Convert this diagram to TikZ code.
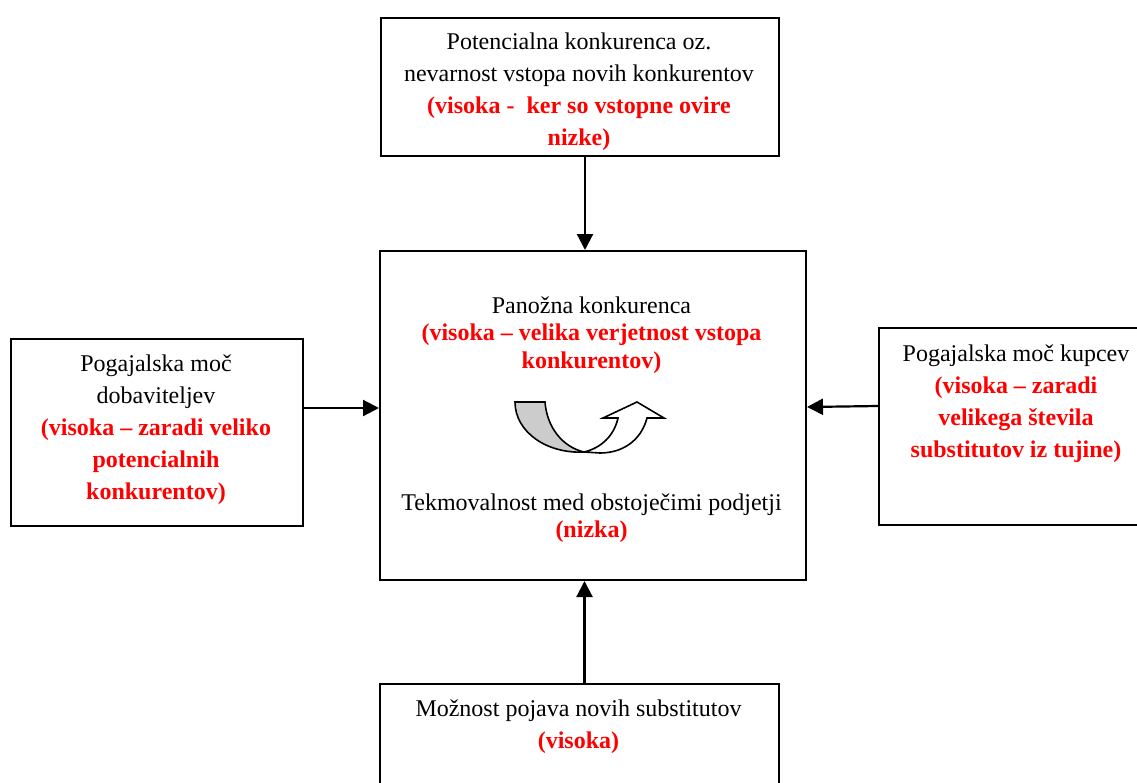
\documentclass[tikz,border=0pt]{standalone}
\usepackage{fontspec}
\setmainfont{Liberation Serif}
\usepackage{xcolor}
\usetikzlibrary{arrows.meta, calc}

\newcommand{\ocena}[1]{\textcolor{red}{\textbf{#1}}}

\begin{document}
\begin{tikzpicture}[
    x=0.5pt, y=-0.5pt,
    >={Triangle[length=8pt,width=8pt]},
    box/.style={draw, rectangle, line width=1pt, anchor=north west, inner sep=0pt},
    txt/.style={align=center, anchor=north, inner sep=0pt, font=\fontsize{12}{16}\selectfont},
    txtc/.style={txt, font=\fontsize{12}{13.8}\selectfont},
    conn/.style={->, line width=1.1pt}
    ]

    \useasboundingbox (0,0) rectangle (1137,783);

    % --- Okvirji ---
    \node (vstop) [box, minimum width=199pt, minimum height=69pt] at (380,17) {};
    \node (panoga) [box, minimum width=213pt, minimum height=164.5pt] at (379,250) {};
    \node (dobav) [box, minimum width=146pt, minimum height=93.5pt] at (10,338) {};
    \node (kupci) [box, minimum width=138pt, minimum height=98.5pt] at (878,327) {};
    \node (subst) [box, minimum width=199.5pt, minimum height=60pt] at (379,683) {};

    % --- Besedila ---
    \node (vstopT) [txt] at (579,32) {Potencialna konkurenca oz.\\
        nevarnost vstopa novih konkurentov\\
        \ocena{(visoka -\ \ ker so vstopne ovire}\\
        \ocena{nizke)}};

    \node (panogaT) [txtc] at (591.5,296) {Panožna konkurenca\\
        \ocena{(visoka – velika verjetnost vstopa}\\
        \ocena{konkurentov)}};

    \node (rivalT) [txtc] at (591.5,493) {Tekmovalnost med obstoječimi podjetji\\
        \ocena{(nizka)}};

    \node (dobavT) [txt] at (156,354) {Pogajalska moč\\
        dobaviteljev\\
        \ocena{(visoka – zaradi veliko}\\
        \ocena{potencialnih}\\
        \ocena{konkurentov)}};

    \node (kupciT) [txt] at (1016,344) {Pogajalska moč kupcev\\
        \ocena{(visoka – zaradi}\\
        \ocena{velikega števila}\\
        \ocena{substitutov iz tujine)}};

    \node (substT) [txt] at (578.5,699) {Možnost pojava novih substitutov\\
        \ocena{(visoka)}};

    % --- Puščica v sredini ---
    \filldraw[fill=gray!40, line width=0.8pt]
        (515,402) -- (545,402) .. controls (547,428) and (563,447) .. (584,452)
        .. controls (547,454) and (515,432) .. cycle;
    \filldraw[fill=white, line width=0.8pt]
        (584,452) .. controls (601,448) and (614,436) .. (618,418) -- (603,418)
        -- (637,402) -- (664,418) -- (647,418)
        .. controls (641,441) and (622,453) .. (600,453) -- cycle;

    % --- Povezave ---
    \draw[conn] ([xshift=2.5pt]vstop.south) -- ([xshift=2.5pt]vstop.south |- panoga.north);
    \draw[conn] ([xshift=2.5pt]subst.north) -- ([xshift=2.5pt]subst.north |- panoga.south);
    \draw[conn] ([yshift=-35pt]dobav.north east) -- ([yshift=-35pt]dobav.north east -| panoga.west);
    \draw[conn] ([yshift=-39.5pt]kupci.north west) -- ([yshift=-40pt]kupci.north west -| panoga.east);

\end{tikzpicture}
\end{document}
